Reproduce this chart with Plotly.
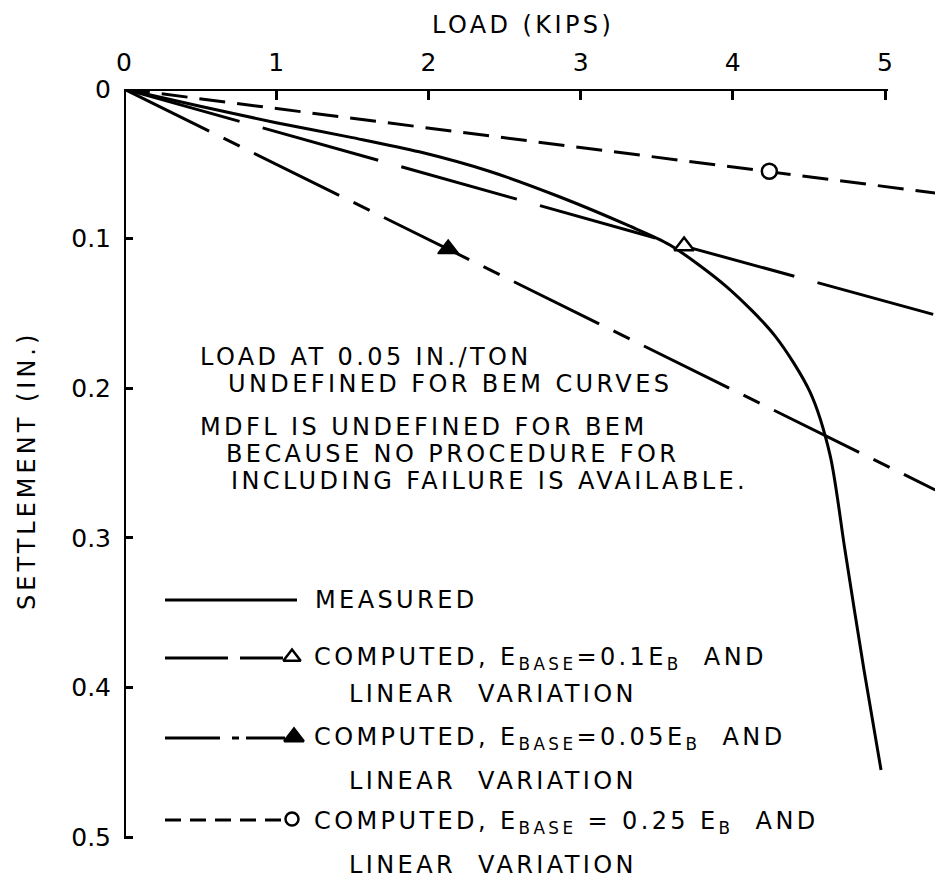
import plotly.graph_objects as go

# Load (kips) vs settlement (in.)
measured_load = [0, 0.5, 1.0, 1.5, 1.94, 2.4, 2.865, 3.305, 3.587, 3.962, 4.277,
                 4.507, 4.639, 4.737, 4.862, 4.974]
measured_settle = [0, 0.0115, 0.0225, 0.0325, 0.042, 0.055, 0.0722, 0.0909, 0.1043,
                   0.1324, 0.165, 0.2025, 0.2447, 0.3082, 0.3884, 0.4552]

# Computed (BEM) curves: E_base = 0.1 E_B, 0.05 E_B, 0.25 E_B
e010_load = [0, 3.68, 5.33]
e010_settle = [0, 0.105, 0.151]
e005_load = [0, 2.13, 5.33]
e005_settle = [0, 0.107, 0.268]
e025_load = [0, 4.24, 5.33]
e025_settle = [0, 0.055, 0.0695]

# Which point of each computed curve carries its symbol
e010_mark = 1
e005_mark = 1
e025_mark = 1

x_ticks = [0, 1, 2, 3, 4, 5]
x_tick_text = ["0", "1", "2", "3", "4", "5"]
y_ticks = [0, 0.1, 0.2, 0.3, 0.4, 0.5]
y_tick_text = ["0", "0.1", "0.2", "0.3", "0.4", "0.5"]

FONT = "DejaVu Sans, Liberation Sans, Arial, sans-serif"
INK = "black"
W, H = 935, 880
ML, MT = 124, 89
PX_PER_KIP = 152.2
PX_PER_IN = 1496.0
x_max = (W - ML) / PX_PER_KIP
y_max = (H - MT) / PX_PER_IN


def spaced(txt, ls=3.4):
    return f'<span style="letter-spacing:{ls}px">{txt}</span>'


def paper_x(px):
    return (px - ML) / (W - ML)


def paper_y(py):
    return (H - py) / (H - MT)


fig = go.Figure()

# ---- data curves ----
fig.add_trace(go.Scatter(x=measured_load, y=measured_settle, mode="lines",
                         line=dict(color=INK, width=3, shape="spline", smoothing=0.8),
                         hoverinfo="skip"))
fig.add_trace(go.Scatter(x=e010_load, y=e010_settle, mode="lines",
                         line=dict(color=INK, width=3, dash="120px,24px"),
                         hoverinfo="skip"))
fig.add_trace(go.Scatter(x=e005_load, y=e005_settle, mode="lines",
                         line=dict(color=INK, width=3, dash="95px,16px,18px,16px"),
                         hoverinfo="skip"))
fig.add_trace(go.Scatter(x=e025_load, y=e025_settle, mode="lines",
                         line=dict(color=INK, width=3, dash="26px,12px"),
                         hoverinfo="skip"))

# symbols on the computed curves
fig.add_trace(go.Scatter(x=[e010_load[e010_mark]], y=[e010_settle[e010_mark]], mode="markers",
                         marker=dict(symbol="triangle-up", size=17, color="white",
                                     line=dict(color=INK, width=2.5)), hoverinfo="skip"))
fig.add_trace(go.Scatter(x=[e005_load[e005_mark]], y=[e005_settle[e005_mark]], mode="markers",
                         marker=dict(symbol="triangle-up", size=18, color=INK,
                                     line=dict(color=INK, width=1.5)), hoverinfo="skip"))
fig.add_trace(go.Scatter(x=[e025_load[e025_mark]], y=[e025_settle[e025_mark]], mode="markers",
                         marker=dict(symbol="circle", size=15, color="white",
                                     line=dict(color=INK, width=2.5)), hoverinfo="skip"))

# ---- key (drawn on a pixel-scaled overlay) ----
key_x0 = 165
key_rows = [
    dict(y=600, dash="solid", sym=None, x1=297),
    dict(y=658, dash="63px,12px", sym=("triangle-up", "white", 15), x1=283),
    dict(y=738, dash="55px,12px,7px,7px", sym=("triangle-up", INK, 17), x1=285),
    dict(y=820, dash="16px,9px", sym=("circle", "white", 13), x1=283),
]
for r in key_rows:
    fig.add_trace(go.Scatter(x=[key_x0, r["x1"]], y=[r["y"], r["y"]], mode="lines",
                             xaxis="x2", yaxis="y2",
                             line=dict(color=INK, width=3, dash=r["dash"]), hoverinfo="skip"))
    if r["sym"]:
        s, c, sz = r["sym"]
        fig.add_trace(go.Scatter(x=[r["x1"] + 9], y=[r["y"] - 1], mode="markers",
                                 xaxis="x2", yaxis="y2",
                                 marker=dict(symbol=s, size=sz, color=c,
                                             line=dict(color=INK, width=2.5)),
                                 hoverinfo="skip"))

texts = [
    (313, 600, "MEASURED"),
    (312, 658, "COMPUTED, E<sub>BASE</sub>=0.1E<sub>B</sub>  AND"),
    (347, 694, "LINEAR  VARIATION"),
    (312, 738, "COMPUTED, E<sub>BASE</sub>=0.05E<sub>B</sub>  AND"),
    (347, 781, "LINEAR  VARIATION"),
    (312, 822, "COMPUTED, E<sub>BASE</sub> = 0.25 E<sub>B</sub>  AND"),
    (347, 865, "LINEAR  VARIATION"),
    (198, 357, "LOAD AT 0.05 IN./TON"),
    (226, 384, "UNDEFINED FOR BEM CURVES"),
    (198, 427, "MDFL IS UNDEFINED FOR BEM"),
    (224, 454, "BECAUSE NO PROCEDURE FOR"),
    (229, 481, "INCLUDING FAILURE IS AVAILABLE."),
]
annotations = []
for x, y, t in texts:
    annotations.append(dict(x=x, y=y, xref="x2", yref="y2", text=spaced(t),
                            showarrow=False, xanchor="left", yanchor="middle",
                            font=dict(family=FONT, size=24, color=INK)))

# axis titles (outside the plotting area, so placed in paper units)
annotations.append(dict(x=paper_x(523), y=paper_y(25), xref="paper", yref="paper",
                        text=spaced("LOAD (KIPS)"), showarrow=False,
                        xanchor="center", yanchor="middle",
                        font=dict(family=FONT, size=24, color=INK)))
annotations.append(dict(x=paper_x(27), y=paper_y(471), xref="paper", yref="paper",
                        text=spaced("SETTLEMENT (IN.)", 4), showarrow=False,
                        xanchor="center", yanchor="middle", textangle=-90,
                        font=dict(family=FONT, size=24, color=INK)))

# axis lines: load axis ends at 5 kips, settlement axis at 0.5 in.
shapes = [
    dict(type="line", xref="x", yref="y", x0=0, x1=5.02, y0=0, y1=0,
         line=dict(color=INK, width=4)),
    dict(type="line", xref="x", yref="y", x0=0, x1=0, y0=0, y1=0.5,
         line=dict(color=INK, width=4)),
]

fig.update_layout(
    width=W, height=H,
    margin=dict(l=ML, r=0, t=MT, b=0),
    paper_bgcolor="white", plot_bgcolor="white",
    showlegend=False,
    annotations=annotations,
    shapes=shapes,
    xaxis=dict(range=[0, x_max], side="top", tickvals=x_ticks, ticktext=x_tick_text,
               ticks="inside", ticklen=11, tickwidth=3, tickcolor=INK,
               showgrid=False, zeroline=False, showline=False,
               ticklabelstandoff=12,
               tickfont=dict(family=FONT, size=25, color=INK)),
    yaxis=dict(range=[y_max, 0], tickvals=y_ticks, ticktext=y_tick_text,
               ticks="inside", ticklen=9, tickwidth=3, tickcolor=INK,
               showgrid=False, zeroline=False, showline=False,
               ticklabelstandoff=12,
               tickfont=dict(family=FONT, size=25, color=INK)),
    xaxis2=dict(range=[ML, W], overlaying="x", visible=False, anchor="y2"),
    yaxis2=dict(range=[H, MT], overlaying="y", visible=False, anchor="x2"),
)

fig.write_html("out.html")
